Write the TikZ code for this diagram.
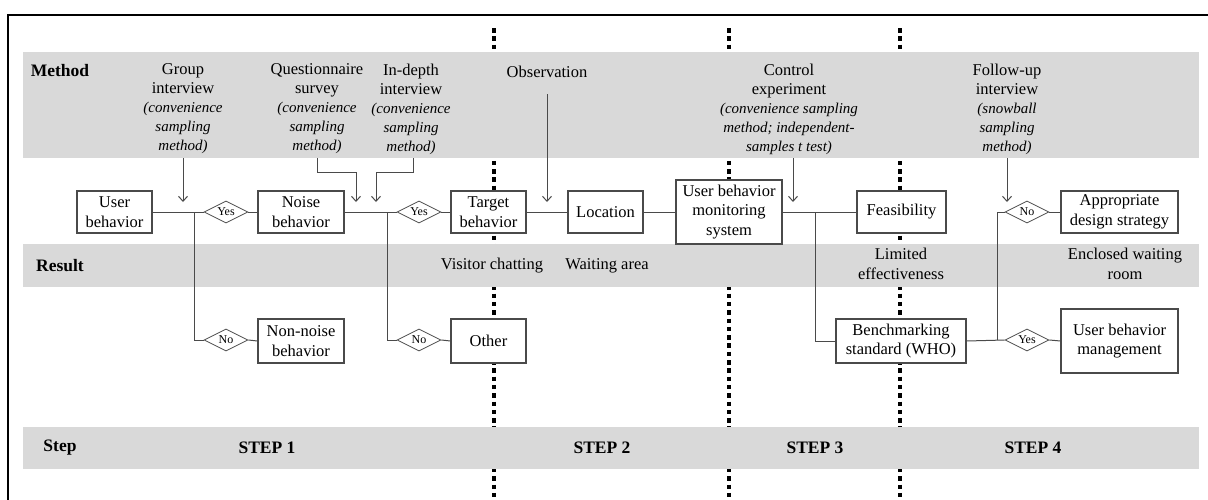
\documentclass[tikz,border=0pt]{standalone}
\usepackage{fontspec}
\setmainfont{Liberation Serif}
\usetikzlibrary{shapes.geometric,arrows.meta}
\definecolor{band}{HTML}{D9D9D9}
\definecolor{ln}{HTML}{4A4A4A}
\newcommand{\mital}{\fontsize{15}{19}\selectfont\itshape}
\tikzset{
  bx/.style={draw=ln, line width=1.1pt, fill=white, align=center, inner sep=0pt,
    font=\fontsize{16.5}{19.5}\selectfont},
  dia/.style={diamond, draw=ln, line width=0.8pt, fill=white, inner sep=0pt, aspect=2,
    minimum width=44pt, minimum height=22pt, font=\fontsize{12}{13}\selectfont},
  conn/.style={draw=ln, line width=1pt},
  arr/.style={draw=ln, line width=1pt, -{Straight Barb[length=5pt,width=9pt,line width=1pt]}},
  bandst/.style={fill=band, draw=none},
  lbl/.style={font=\fontsize{17.5}{19}\selectfont\bfseries},
  mtxt/.style={align=center, font=\fontsize{16.5}{19}\selectfont},
  rtxt/.style={align=center, font=\fontsize{16.5}{20}\selectfont},
  steptxt/.style={font=\fontsize{17.5}{19}\selectfont\bfseries},
  sep/.style={line width=3.2pt, dash pattern=on 4.5pt off 3.8pt, black},
}
\begin{document}
\begin{tikzpicture}[x=1pt,y=-1pt]
\useasboundingbox (0,0) rectangle (1208,499);
% frame
\draw[line width=2pt] (8,500) -- (8,15) -- (1210,15);
% separators
\draw[sep] (494,28) -- (494,500);
\draw[sep] (729,28) -- (729,500);
\draw[sep] (900,28) -- (900,500);
% bands
\fill[bandst] (23,52) rectangle (1199,158);
\fill[bandst] (23,244) rectangle (1199,287);
\fill[bandst] (23,427) rectangle (1199,469);
% row labels
\node[lbl] (lm) at (60,71) {Method};
\node[lbl] (lr) at (60,266) {Result};
\node[lbl] (ls) at (60,448) {Step};
% method texts
\node[mtxt] (mg) at (183,109) {Group\\interview\\\mital (convenience\\\mital sampling\\\mital method)};
\node[mtxt] (mq) at (317,109) {Questionnaire\\survey\\\mital (convenience\\\mital sampling\\\mital method)};
\node[mtxt] (mi) at (411,109) {In-depth\\interview\\\mital (convenience\\\mital sampling\\\mital method)};
\node[mtxt] (mo) at (547,72) {Observation};
\node[mtxt] (mc) at (789,109) {Control\\experiment\\\mital (convenience sampling\\\mital method; independent-\\\mital samples t test)};
\node[mtxt] (mf) at (1007,109) {Follow-up\\interview\\\mital (snowball\\\mital sampling\\\mital method)};
% result texts
\node[rtxt] (r1) at (492,266) {Visitor chatting};
\node[rtxt] (r2) at (607,266) {Waiting area};
\node[rtxt] (r3) at (901,264) {Limited\\effectiveness};
\node[rtxt] (r4) at (1125,264) {Enclosed waiting\\room};
% step texts
\node[steptxt] (s1) at (267,448) {STEP 1};
\node[steptxt] (s2) at (602,448) {STEP 2};
\node[steptxt] (s3) at (815,448) {STEP 3};
\node[steptxt] (s4) at (1033,448) {STEP 4};
% boxes
\node[bx, minimum width=75pt, minimum height=42pt] (ub) at (114.5,212) {User\\behavior};
\node[bx, minimum width=86pt, minimum height=42pt] (nb) at (301,212) {Noise\\behavior};
\node[bx, minimum width=86pt, minimum height=44pt] (nnb) at (301,341) {Non-noise\\behavior};
\node[bx, minimum width=75pt, minimum height=42pt] (tb) at (488.5,212) {Target\\behavior};
\node[bx, minimum width=75pt, minimum height=44pt] (oth) at (488.5,341) {Other};
\node[bx, minimum width=75pt, minimum height=42pt] (loc) at (605.5,212) {Location};
\node[bx, minimum width=106pt, minimum height=64pt] (ubms) at (729,212) {User behavior\\monitoring\\system};
\node[bx, minimum width=89pt, minimum height=42pt] (feas) at (901.5,212) {Feasibility};
\node[bx, minimum width=130pt, minimum height=44pt] (bench) at (901,341) {Benchmarking\\standard (WHO)};
\node[bx, minimum width=117pt, minimum height=42pt] (ads) at (1119.5,212) {Appropriate\\design strategy};
\node[bx, minimum width=117pt, minimum height=64pt] (ubm) at (1119.5,341) {User behavior\\management};
% diamonds
\node[dia] (d1) at (226,212) {Yes};
\node[dia] (d2) at (226,340) {No};
\node[dia] (d3) at (419,212) {Yes};
\node[dia] (d4) at (419,340) {No};
\node[dia] (d5) at (1027,212) {No};
\node[dia] (d6) at (1027,340) {Yes};
% branch points
\coordinate (b1) at (194,212);
\coordinate (b2) at (387,212);
\coordinate (b3) at (815,212);
\coordinate (b4) at (997,340);
% connectors
\draw[conn] (ub.east) -- (d1.west);
\draw[conn] (d1.east) -- (nb.west);
\draw[conn] (b1) |- (d2.west);
\draw[conn] (d2.east) -- (nnb.west);
\draw[conn] (nb.east) -- (d3.west);
\draw[conn] (d3.east) -- (tb.west);
\draw[conn] (b2) |- (d4.west);
\draw[conn] (d4.east) -- (oth.west);
\draw[conn] (tb.east) -- (loc.west);
\draw[conn] (loc.east) -- (ubms.west);
\draw[conn] (ubms.east) -- (feas.west);
\draw[conn] (b3) |- (bench.west);
\draw[conn] (bench.east) -- (d6.west);
\draw[conn] (d6.east) -- (ubm.west);
\draw[conn] (b4) |- (d5.west);
\draw[conn] (d5.east) -- (ads.west);
% method arrows
\coordinate (ag) at (183,158);
\coordinate (aq) at (317,158);
\coordinate (ai) at (413,158);
\coordinate (ao) at (547,94);
\coordinate (ac) at (793,158);
\coordinate (af) at (1007,158);
\draw[arr] (ag) -- (183,202);
\draw[arr] (aq) -- (317,172) -- (356,172) -- (356,202);
\draw[arr] (ai) -- (413,172) -- (376,172) -- (376,202);
\draw[arr] (ao) -- (547,202);
\draw[arr] (ac) -- (793,202);
\draw[arr] (af) -- (1007,202);
\end{tikzpicture}
\end{document}
